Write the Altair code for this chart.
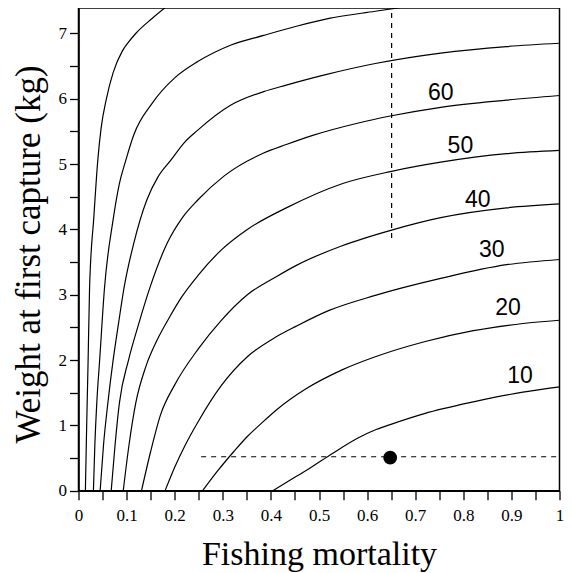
import altair as alt
import pandas as pd

# ---- isopleth curves (fishing mortality F, weight at first capture W) ----
levels = [90, 80, 70, 60, 50, 40, 30, 20, 10]

f90 = [0.0143, 0.017, 0.020, 0.023, 0.032, 0.040, 0.047, 0.058, 0.072, 0.091, 0.102, 0.119, 0.153, 0.198]
w90 = [0.0, 1.0, 2.0, 3.1, 4.2, 5.05, 5.55, 6.0, 6.4, 6.73, 6.85, 7.0, 7.23, 7.5]

f80 = [0.031, 0.034, 0.038, 0.044, 0.054, 0.072, 0.085, 0.098, 0.115, 0.153, 0.20, 0.248, 0.316, 0.385, 0.453, 0.521, 0.617, 0.70, 0.77]
w80 = [0.0, 0.7, 1.34, 2.0, 3.1, 4.15, 4.7, 5.05, 5.45, 5.93, 6.32, 6.57, 6.82, 6.97, 7.11, 7.23, 7.34, 7.43, 7.5]

f70 = [0.045, 0.052, 0.061, 0.072, 0.083, 0.095, 0.115, 0.142, 0.165, 0.192, 0.22, 0.248, 0.316, 0.385, 0.432, 0.514, 0.617, 0.753, 0.89, 1.0]
w70 = [0.0, 0.7, 1.34, 2.0, 2.55, 3.12, 3.79, 4.45, 4.8, 5.06, 5.33, 5.52, 5.9, 6.11, 6.21, 6.37, 6.54, 6.70, 6.80, 6.85]

f60 = [0.068, 0.076, 0.085, 0.104, 0.125, 0.149, 0.185, 0.215, 0.248, 0.303, 0.385, 0.432, 0.487, 0.582, 0.651, 0.753, 0.89, 1.0]
w60 = [0.0, 0.7, 1.34, 2.0, 2.55, 3.12, 3.8, 4.17, 4.45, 4.82, 5.17, 5.3, 5.44, 5.63, 5.74, 5.87, 5.98, 6.05]

f50 = [0.093, 0.105, 0.119, 0.14, 0.163, 0.188, 0.215, 0.249, 0.296, 0.351, 0.432, 0.548, 0.651, 0.753, 0.89, 1.0]
w50 = [0.0, 0.7, 1.34, 1.9, 2.3, 2.64, 2.97, 3.3, 3.68, 4.0, 4.33, 4.7, 4.89, 5.03, 5.16, 5.21]

f40 = [0.131, 0.15, 0.17, 0.2, 0.249, 0.296, 0.351, 0.412, 0.453, 0.548, 0.651, 0.753, 0.89, 1.0]
w40 = [0.0, 0.6, 1.15, 1.62, 2.17, 2.6, 3.0, 3.28, 3.45, 3.75, 3.99, 4.18, 4.33, 4.39]

f30 = [0.18, 0.20, 0.222, 0.249, 0.296, 0.351, 0.412, 0.453, 0.521, 0.617, 0.753, 0.89, 1.0]
w30 = [0.0, 0.36, 0.7, 1.06, 1.6, 2.05, 2.36, 2.52, 2.76, 2.99, 3.25, 3.46, 3.54]

f20 = [0.258, 0.29, 0.323, 0.351, 0.38, 0.412, 0.473, 0.548, 0.617, 0.719, 0.821, 0.924, 1.0]
w20 = [0.0, 0.31, 0.6, 0.83, 1.03, 1.24, 1.56, 1.85, 2.05, 2.28, 2.45, 2.56, 2.61]

f10 = [0.404, 0.453, 0.48, 0.528, 0.582, 0.62, 0.651, 0.719, 0.821, 0.924, 1.0]
w10 = [0.0, 0.22, 0.34, 0.57, 0.81, 0.94, 1.02, 1.18, 1.36, 1.51, 1.59]

curve_f = [f90, f80, f70, f60, f50, f40, f30, f20, f10]
curve_w = [w90, w80, w70, w60, w50, w40, w30, w20, w10]

# contour labels
label_text = ["10", "20", "30", "40", "50", "60"]
label_f = [0.918, 0.893, 0.859, 0.83, 0.794, 0.753]
label_w = [1.75, 2.79, 3.69, 4.45, 5.28, 6.09]

# reference lines and point
vline_f = [0.651, 0.651]
vline_w = [3.87, 7.5]
hline_f = [0.255, 1.0]
hline_w = [0.52, 0.52]
point_f = [0.648]
point_w = [0.505]

x_ticks = [round(i * 0.05, 2) for i in range(21)]
y_ticks = [i * 0.5 for i in range(15)]

rows = []
for lvl, fs, ws in zip(levels, curve_f, curve_w):
    for i, (f, w) in enumerate(zip(fs, ws)):
        rows.append({"level": lvl, "i": i, "F": f, "W": w})
curves_df = pd.DataFrame(rows)

labels_df = pd.DataFrame({"F": label_f, "W": label_w, "t": label_text})
vline_df = pd.DataFrame({"F": vline_f, "W": vline_w, "i": [0, 1]})
hline_df = pd.DataFrame({"F": hline_f, "W": hline_w, "i": [0, 1]})
point_df = pd.DataFrame({"F": point_f, "W": point_w})

x_scale = alt.Scale(domain=[0, 1], nice=False, zero=False)
y_scale = alt.Scale(domain=[0, 7.39], nice=False, zero=False)

x_axis = alt.Axis(
    values=x_ticks,
    labelExpr="(round(datum.value*20) % 2 == 0) ? format(datum.value, '~g') : ''",
    grid=False, tickSize=9, tickWidth=1.3, tickColor="black",
    domainColor="black", domainWidth=1.6,
    labelFont="Liberation Serif", labelFontSize=17, labelColor="black",
    labelPadding=8, labelFlush=False, labelOverlap=False,
    titleFont="Liberation Serif", titleFontSize=34, titleFontWeight="normal",
    titleColor="black", titleBaseline="alphabetic", titleY=74,
)
y_axis = alt.Axis(
    values=y_ticks,
    labelExpr="(round(datum.value*2) % 2 == 0) ? format(datum.value, 'd') : ''",
    grid=False, tickSize=9, tickWidth=1.3, tickColor="black",
    domainColor="black", domainWidth=1.6,
    labelFont="Liberation Serif", labelFontSize=17, labelColor="black",
    labelPadding=3, labelFlush=False, labelOverlap=False,
    titleFont="Liberation Serif", titleFontSize=35, titleFontWeight="normal",
    titleColor="black", titleBaseline="alphabetic", titleX=-39, titleY=246,
)

X = alt.X("F:Q", scale=x_scale, axis=x_axis, title="Fishing mortality")
Y = alt.Y("W:Q", scale=y_scale, axis=y_axis, title="Weight at first capture (kg)")

curves = alt.Chart(curves_df).mark_line(
    color="black", strokeWidth=1.2, interpolate="monotone", clip=True
).encode(x=X, y=Y, detail="level:N", order="i:Q")

vline = alt.Chart(vline_df).mark_line(
    color="black", strokeWidth=1.2, strokeDash=[5, 5], clip=True
).encode(x=X, y=Y, order="i:Q")

hline = alt.Chart(hline_df).mark_line(
    color="black", strokeWidth=1.2, strokeDash=[5, 5], clip=True
).encode(x=X, y=Y, order="i:Q")

dot = alt.Chart(point_df).mark_point(
    filled=True, color="black", size=190, opacity=1, shape="circle"
).encode(x=X, y=Y)

texts = alt.Chart(labels_df).mark_text(
    font="Liberation Sans", fontSize=23, color="black", align="center", baseline="middle"
).encode(x=X, y=Y, text="t:N")

chart = alt.layer(curves, vline, hline, dot, texts).properties(
    width=481,
    height=482.7,
    autosize=alt.AutoSizeParams(type="none"),
    padding={"left": 70.5, "top": 0, "right": 4.5, "bottom": 82.3},
).configure(background="white").configure_view(
    stroke="black", strokeWidth=1.5
)

chart.save("out.html", embed_options={"renderer": "svg", "actions": False})
